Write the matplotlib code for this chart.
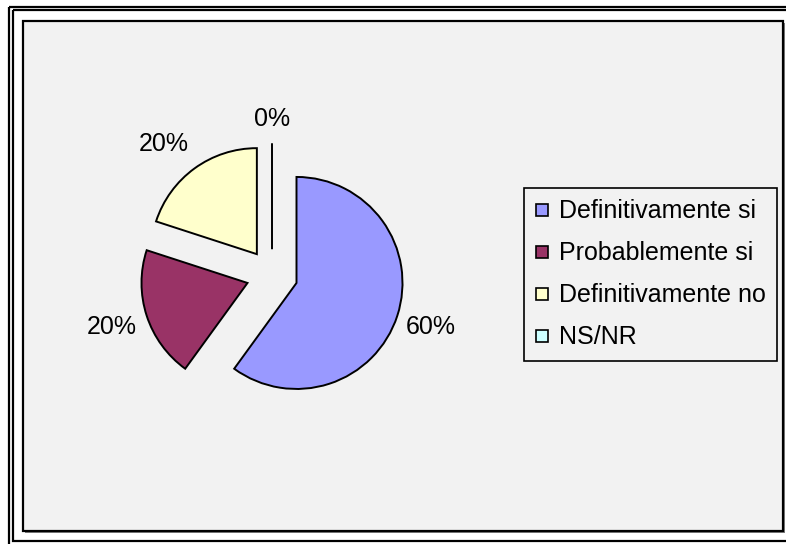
import numpy as np
import matplotlib.pyplot as plt
from matplotlib.patches import Rectangle
from matplotlib.lines import Line2D

plt.rcParams['font.family'] = ['Liberation Sans', 'DejaVu Sans']

# datos
categorias = ['Definitivamente si', 'Probablemente si', 'Definitivamente no', 'NS/NR']
valores = [60, 20, 20, 0]
colores = ['#9999FF', '#993366', '#FFFFCC', '#CCFFFF']

W, H = 786, 544
fig = plt.figure(figsize=(W / 100, H / 100), dpi=100)
fig.patch.set_facecolor('white')

# marco de fondo (coordenadas en pixeles)
bg = fig.add_axes([0, 0, 1, 1])
bg.set_xlim(0, W)
bg.set_ylim(H, 0)
bg.axis('off')
bg.add_patch(Rectangle((9, 6.5), 800, 560, fill=False, ec='black', lw=1.6))
bg.add_patch(Rectangle((13, 10), 800, 531, fill=False, ec='black', lw=1.6))
bg.add_patch(Rectangle((25, 23), 760, 510, fc='#808080', ec='none'))
bg.add_patch(Rectangle((23, 21), 760, 510, fc='#F2F2F2', ec='black', lw=1.6))

# pastel
r_px = 106
cx, cy = 272, 275
half = 200
ax = fig.add_axes([(cx - half) / W, (H - cy - half) / H, 2 * half / W, 2 * half / H])
ax.axis('off')

explode = [0.243] * len(valores)
wedges, texts, autotexts = ax.pie(
    valores, colors=colores, explode=explode, startangle=90, counterclock=False,
    autopct='%.0f%%', pctdistance=1.33, radius=1,
    wedgeprops=dict(edgecolor='black', linewidth=1.4),
    textprops=dict(fontsize=18, color='black'))
ax.set_xlim(-half / r_px, half / r_px)
ax.set_ylim(-half / r_px, half / r_px)

# posicion de cada etiqueta (distancia, giro en grados) estilo Excel
dist = [1.33, 1.35, 1.36, 1.23]
giro = [0, 0, 4, 0]
for w, t, d, g in zip(wedges, autotexts, dist, giro):
    th = np.deg2rad((w.theta1 + w.theta2) / 2 + g)
    x0, y0 = w.center
    t.set_position((x0 + d * np.cos(th), y0 + d * np.sin(th)))

# leyenda
handles = [Line2D([], [], marker='s', linestyle='none', markersize=8,
                  markerfacecolor=c, markeredgecolor='black', markeredgewidth=1.2)
           for c in colores]
leg = fig.legend(handles, categorias, loc='upper left',
                 bbox_to_anchor=(524 / W, 1 - 188 / H), borderaxespad=0,
                 fontsize=18, handlelength=0.5, handletextpad=0.45,
                 labelspacing=0.72, borderpad=0.45, fancybox=False,
                 frameon=True, edgecolor='black', facecolor='#F2F2F2')
leg.get_frame().set_linewidth(1.2)
leg.get_frame().set_alpha(1)

fig.savefig('out.png', dpi=100)
